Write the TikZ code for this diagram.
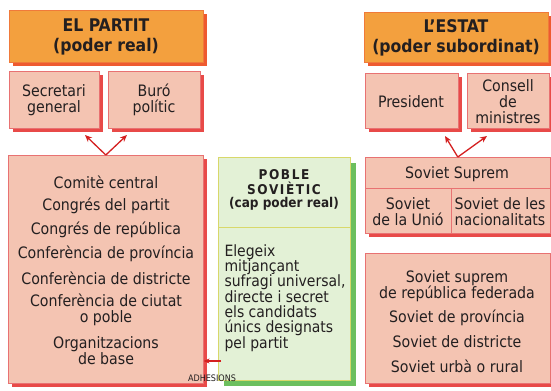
\documentclass[tikz,border=0pt]{standalone}
\usepackage{fontspec}
\setmainfont{DejaVu Sans Condensed}
\usetikzlibrary{shadows,calc,arrows.meta}
\definecolor{hdr}{HTML}{F3A03E}
\definecolor{hdrline}{HTML}{F07A3A}
\definecolor{hdrshadow}{HTML}{EE5A30}
\definecolor{pinkfill}{HTML}{F4C4B2}
\definecolor{pinkline}{HTML}{E87272}
\definecolor{pinkshadow}{HTML}{E84A48}
\definecolor{greenfill}{HTML}{E3F1D6}
\definecolor{greenline}{HTML}{D8D86A}
\definecolor{greenshadow}{HTML}{6CBF5E}
\definecolor{arrred}{HTML}{D42020}
\definecolor{ink}{HTML}{231F20}
\tikzset{
  basebox/.style={line width=0.6bp, inner sep=0pt, anchor=north west},
  hdrbox/.style={basebox, draw=hdrline, fill=hdr,
    drop shadow={shadow xshift=4bp, shadow yshift=-4bp, fill=hdrshadow, opacity=1}},
  pinkbox/.style={basebox, draw=pinkline, fill=pinkfill,
    drop shadow={shadow xshift=4bp, shadow yshift=-4bp, fill=pinkshadow, opacity=1}},
  greenbox/.style={basebox, draw=greenline, fill=greenfill,
    drop shadow={shadow xshift=6bp, shadow yshift=-6bp, fill=greenshadow, opacity=1}},
  hdrtxt/.style={align=center, text=ink, font=\fontsize{17.5}{20}\selectfont\bfseries},
  txt/.style={align=center, text=ink, font=\fontsize{15.8}{16}\selectfont},
  gtxt/.style={align=left, text=ink, anchor=west, font=\fontsize{15.6}{15.4}\selectfont},
  arr/.style={draw=arrred, line width=1.3bp, -{Stealth[length=7bp,width=6bp]}},
  divline/.style={draw=pinkline, line width=0.6bp},
}
\begin{document}
\begin{tikzpicture}[x=1bp,y=-1bp]
\useasboundingbox[fill=white] (0,0) rectangle (551,390);
% ---- Party side
\node[hdrbox, minimum width=194bp, minimum height=52bp] (partit) at (9,10) {};
\node[hdrtxt] (partitT) at (106,37) {EL PARTIT\\(poder real)};
\node[pinkbox, minimum width=90bp, minimum height=57bp] (secr) at (9,71) {};
\node[txt] (secrT) at (54,100) {Secretari\\general};
\node[pinkbox, minimum width=92bp, minimum height=57bp] (buro) at (108,71) {};
\node[txt] (buroT) at (154,100) {Buró\\polític};
\node[pinkbox, minimum width=195bp, minimum height=228bp] (big) at (8,155) {};
\node[txt] (p1) at (106,182) {Comitè central};
\node[txt] (p2) at (106,206) {Congrés del partit};
\node[txt] (p3) at (106,230) {Congrés de república};
\node[txt] (p4) at (106,254) {Conferència de província};
\node[txt] (p5) at (106,278) {Conferència de districte};
\node[txt] (p6) at (106,310) {Conferència de ciutat\\o poble};
\node[txt] (p7) at (106,351) {Organitzacions\\de base};
\coordinate (lt1) at (85,135);
\coordinate (lt2) at (127,135);
\draw[arr] (big.north) -- (lt1);
\draw[arr] (big.north) -- (lt2);
% ---- People
\node[greenbox, minimum width=132bp, minimum height=223bp] (poble) at (218,157) {};
\draw[draw=greenline, line width=0.6bp] (poble.west |- 0,227) -- (poble.east |- 0,227);
\node[align=center, text=ink, font=\fontsize{13.5}{16}\selectfont\bfseries] (pobleT) at (284,190)
  {\addfontfeature{LetterSpace=12}POBLE\\[-1.5bp]\addfontfeature{LetterSpace=12}SOVIÈTIC\\[-3bp](cap poder real)};
\node[gtxt] (pobleB) at (221,298) {Elegeix\\mitjançant\\sufragi universal,\\directe i secret\\els candidats\\únics designats\\pel partit};
\coordinate (adh) at (221,361);
\draw[arr, line width=1.1bp, -{Stealth[length=6bp,width=5bp]}] (adh) -- (big.east |- adh);
\node[text=ink, font=\fontsize{9}{10}\selectfont] (adhT) at (212,378) {ADHESIONS};
% ---- State side
\node[hdrbox, minimum width=184bp, minimum height=50bp] (estat) at (364,12) {};
\node[hdrtxt] (estatT) at (456,38) {L’ESTAT\\(poder subordinat)};
\node[pinkbox, minimum width=93bp, minimum height=55bp] (pres) at (365,73) {};
\node[txt] (presT) at (411,102) {President};
\node[pinkbox, minimum width=82bp, minimum height=55bp] (cons) at (467,73) {};
\node[txt] (consT) at (508,102) {Consell\\de\\ministres};
\node[pinkbox, minimum width=185bp, minimum height=76bp] (supr) at (365,157) {};
\coordinate (dv) at (451,188);
\draw[divline] (supr.west |- dv) -- (supr.east |- dv);
\draw[divline] (dv) -- (dv |- supr.south);
\node[txt] (suprT) at (457,174) {Soviet Suprem};
\node[txt] (unio) at (408,212) {Soviet\\de la Unió};
\node[txt] (nac) at (500,212) {Soviet de les\\nacionalitats};
\coordinate (rt1) at (445,136);
\coordinate (rt2) at (487,136);
\draw[arr] (supr.north) -- (rt1);
\draw[arr] (supr.north) -- (rt2);
\node[pinkbox, minimum width=185bp, minimum height=130bp] (loc) at (365,253) {};
\node[txt] (s1) at (457,286) {Soviet suprem\\de república federada};
\node[txt] (s2) at (457,318) {Soviet de província};
\node[txt] (s3) at (457,342) {Soviet de districte};
\node[txt] (s4) at (457,366) {Soviet urbà o rural};
\end{tikzpicture}
\end{document}
